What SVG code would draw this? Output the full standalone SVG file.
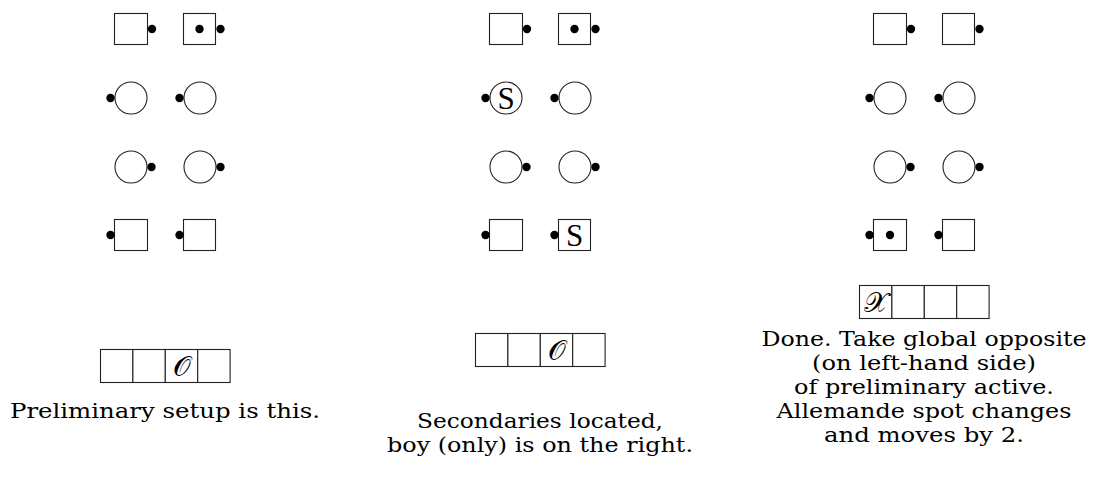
<svg xmlns="http://www.w3.org/2000/svg" width="1093" height="496" viewBox="0 0 1093 496">
<defs>
<style>
.box{fill:#fff;stroke:#222;stroke-width:1.1}
.dot{fill:#000}
.cell{fill:#fff;stroke:#222;stroke-width:1.1}
.lbl{font-family:"DejaVu Serif","Liberation Serif",serif;font-size:20.5px;fill:#000;text-anchor:middle}
.s{font-family:"Liberation Serif",serif;font-size:31px;fill:#000;text-anchor:middle}
.cal{font-family:"DejaVu Serif","Liberation Serif",serif;font-size:28px;fill:#000;text-anchor:middle}
</style>
</defs>
<rect width="1093" height="496" fill="#fff"/>

<!-- Panel 1 -->
<g id="p1">
<g id="p1-r1a"><rect class="box" x="114.5" y="13.5" width="33" height="31"/><circle class="dot" cx="152" cy="29" r="4.2"/></g>
<g id="p1-r1b"><rect class="box" x="183.5" y="13.5" width="32" height="31"/><circle class="dot" cx="199.5" cy="29" r="4.2"/><circle class="dot" cx="220.5" cy="29" r="4.2"/></g>
<g id="p1-r2a"><circle class="box" cx="131" cy="98" r="16"/><circle class="dot" cx="110.5" cy="98" r="4.2"/></g>
<g id="p1-r2b"><circle class="box" cx="200" cy="98" r="16"/><circle class="dot" cx="179.5" cy="98" r="4.2"/></g>
<g id="p1-r3a"><circle class="box" cx="131" cy="167" r="16"/><circle class="dot" cx="151.5" cy="167" r="4.2"/></g>
<g id="p1-r3b"><circle class="box" cx="200" cy="167" r="16"/><circle class="dot" cx="220.5" cy="167" r="4.2"/></g>
<g id="p1-r4a"><rect class="box" x="114.5" y="219.5" width="33" height="31"/><circle class="dot" cx="110.5" cy="235" r="4.2"/></g>
<g id="p1-r4b"><rect class="box" x="183.5" y="219.5" width="32" height="31"/><circle class="dot" cx="179.5" cy="235" r="4.2"/></g>
<g id="p1-table">
<rect class="cell" x="100.5" y="349.5" width="32.4" height="33"/>
<rect class="cell" x="132.9" y="349.5" width="32.4" height="33"/>
<rect class="cell" x="165.3" y="349.5" width="32.4" height="33"/>
<rect class="cell" x="197.7" y="349.5" width="32.4" height="33"/>
<text class="cal" x="181.5" y="376">𝒪</text>
</g>
<g id="p1-caption"><text class="lbl" x="165" y="418" textLength="310" lengthAdjust="spacingAndGlyphs">Preliminary setup is this.</text></g>
</g>

<!-- Panel 2 -->
<g id="p2">
<g id="p2-r1a"><rect class="box" x="489.5" y="13.5" width="33" height="31"/><circle class="dot" cx="527" cy="29" r="4.2"/></g>
<g id="p2-r1b"><rect class="box" x="558.5" y="13.5" width="32" height="31"/><circle class="dot" cx="574.5" cy="29" r="4.2"/><circle class="dot" cx="595.5" cy="29" r="4.2"/></g>
<g id="p2-r2a"><circle class="box" cx="506" cy="98" r="16"/><circle class="dot" cx="485.5" cy="98" r="4.2"/><text class="s" x="506" y="108.5">S</text></g>
<g id="p2-r2b"><circle class="box" cx="575" cy="98" r="16"/><circle class="dot" cx="554.5" cy="98" r="4.2"/></g>
<g id="p2-r3a"><circle class="box" cx="506" cy="167" r="16"/><circle class="dot" cx="526.5" cy="167" r="4.2"/></g>
<g id="p2-r3b"><circle class="box" cx="575" cy="167" r="16"/><circle class="dot" cx="595.5" cy="167" r="4.2"/></g>
<g id="p2-r4a"><rect class="box" x="489.5" y="219.5" width="33" height="31"/><circle class="dot" cx="485.5" cy="235" r="4.2"/></g>
<g id="p2-r4b"><rect class="box" x="558.5" y="219.5" width="32" height="31"/><circle class="dot" cx="554.5" cy="235" r="4.2"/><text class="s" x="574.5" y="245.5">S</text></g>
<g id="p2-table">
<rect class="cell" x="475.5" y="333.5" width="32.4" height="33"/>
<rect class="cell" x="507.9" y="333.5" width="32.4" height="33"/>
<rect class="cell" x="540.3" y="333.5" width="32.4" height="33"/>
<rect class="cell" x="572.7" y="333.5" width="32.4" height="33"/>
<text class="cal" x="556.5" y="360">𝒪</text>
</g>
<g id="p2-caption">
<text class="lbl" x="540" y="428" textLength="246" lengthAdjust="spacingAndGlyphs">Secondaries located,</text>
<text class="lbl" x="540" y="452" textLength="306" lengthAdjust="spacingAndGlyphs">boy (only) is on the right.</text>
</g>
</g>

<!-- Panel 3 -->
<g id="p3">
<g id="p3-r1a"><rect class="box" x="873.5" y="13.5" width="33" height="31"/><circle class="dot" cx="911" cy="29" r="4.2"/></g>
<g id="p3-r1b"><rect class="box" x="942.5" y="13.5" width="32" height="31"/><circle class="dot" cx="979.5" cy="29" r="4.2"/></g>
<g id="p3-r2a"><circle class="box" cx="890" cy="98" r="16"/><circle class="dot" cx="869.5" cy="98" r="4.2"/></g>
<g id="p3-r2b"><circle class="box" cx="959" cy="98" r="16"/><circle class="dot" cx="938.5" cy="98" r="4.2"/></g>
<g id="p3-r3a"><circle class="box" cx="890" cy="167" r="16"/><circle class="dot" cx="910.5" cy="167" r="4.2"/></g>
<g id="p3-r3b"><circle class="box" cx="959" cy="167" r="16"/><circle class="dot" cx="979.5" cy="167" r="4.2"/></g>
<g id="p3-r4a"><rect class="box" x="873.5" y="219.5" width="33" height="31"/><circle class="dot" cx="869.5" cy="235" r="4.2"/><circle class="dot" cx="890" cy="235" r="4.2"/></g>
<g id="p3-r4b"><rect class="box" x="942.5" y="219.5" width="32" height="31"/><circle class="dot" cx="938.5" cy="235" r="4.2"/></g>
<g id="p3-table">
<rect class="cell" x="859.5" y="285.5" width="32.4" height="33"/>
<rect class="cell" x="891.9" y="285.5" width="32.4" height="33"/>
<rect class="cell" x="924.3" y="285.5" width="32.4" height="33"/>
<rect class="cell" x="956.7" y="285.5" width="32.4" height="33"/>
<text class="cal" x="875.7" y="312">𝒳</text>
</g>
<g id="p3-caption">
<text class="lbl" x="924" y="346" textLength="325" lengthAdjust="spacingAndGlyphs">Done. Take global opposite</text>
<text class="lbl" x="924" y="370" textLength="224" lengthAdjust="spacingAndGlyphs">(on left-hand side)</text>
<text class="lbl" x="924" y="394" textLength="260" lengthAdjust="spacingAndGlyphs">of preliminary active.</text>
<text class="lbl" x="924" y="418" textLength="295" lengthAdjust="spacingAndGlyphs">Allemande spot changes</text>
<text class="lbl" x="924" y="442" textLength="200" lengthAdjust="spacingAndGlyphs">and moves by 2.</text>
</g>
</g>
</svg>
